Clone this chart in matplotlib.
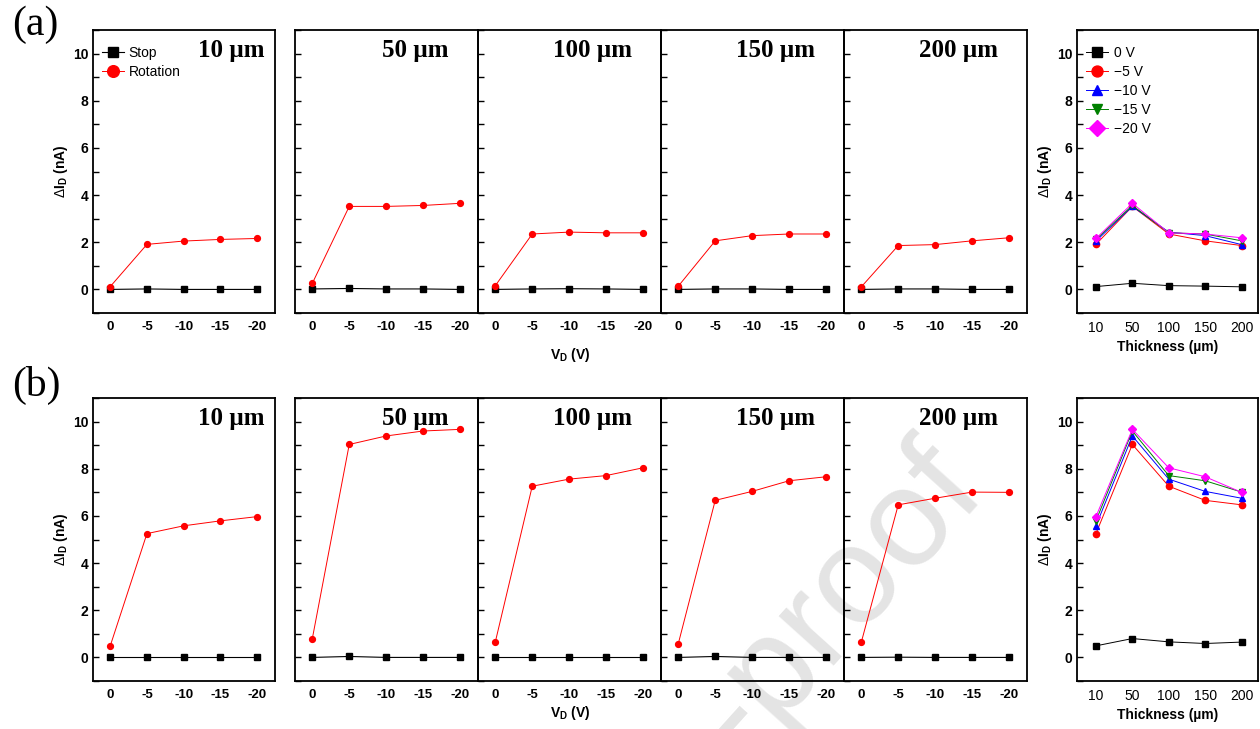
import matplotlib
matplotlib.use('Agg')
import matplotlib.pyplot as plt
from matplotlib.ticker import MultipleLocator

plt.rcParams['font.family'] = ['Liberation Sans', 'DejaVu Sans']
plt.rcParams['mathtext.fontset'] = 'custom'
plt.rcParams['mathtext.rm'] = 'Liberation Sans'
plt.rcParams['mathtext.bf'] = 'Liberation Sans:bold'
plt.rcParams['mathtext.it'] = 'Liberation Sans:italic'

# data
vd_labels = ['0', '-5', '-10', '-15', '-20']
thickness_labels = ['10', '50', '100', '150', '200']
panel_titles = ['10 µm', '50 µm', '100 µm', '150 µm', '200 µm']
bias_labels = ['0 V', '\u22125 V', '\u221210 V', '\u221215 V', '\u221220 V']

# (a) one list per thickness, values at VD = 0, -5, -10, -15, -20
stop_a = [[0.0, 0.02, 0.0, 0.0, 0.0],
          [0.02, 0.04, 0.02, 0.02, 0.0],
          [0.0, 0.02, 0.03, 0.02, 0.0],
          [0.0, 0.02, 0.02, 0.0, 0.0],
          [0.0, 0.02, 0.02, 0.0, 0.0]]
rot_a = [[0.12, 1.91, 2.05, 2.12, 2.16],
         [0.26, 3.52, 3.52, 3.56, 3.65],
         [0.16, 2.35, 2.43, 2.40, 2.40],
         [0.14, 2.06, 2.28, 2.35, 2.35],
         [0.11, 1.86, 1.90, 2.06, 2.19]]

# (b)
stop_b = [[0.0, 0.0, 0.0, 0.0, 0.0],
          [0.0, 0.04, 0.0, 0.0, 0.0],
          [0.0, 0.0, 0.0, 0.0, 0.0],
          [0.0, 0.04, 0.0, 0.0, 0.0],
          [0.0, 0.01, 0.0, 0.0, 0.0]]
rot_b = [[0.49, 5.25, 5.58, 5.79, 5.97],
         [0.80, 9.03, 9.39, 9.60, 9.67],
         [0.66, 7.26, 7.56, 7.71, 8.04],
         [0.59, 6.66, 7.04, 7.49, 7.66],
         [0.65, 6.47, 6.75, 7.01, 7.00]]

bias_colors = ['black', 'red', 'blue', 'green', 'magenta']
bias_markers = ['s', 'o', '^', 'v', 'D']

W, H = 1260, 729
fig = plt.figure(figsize=(W / 100, H / 100), dpi=100)

panel_x = [93, 295, 478, 661, 844]
panel_w = [182, 183, 183, 183, 183]
right_x, right_w = 1077, 181


def style_y(ax, labels=True):
    ax.set_ylim(-1, 11)
    ax.yaxis.set_major_locator(MultipleLocator(2))
    ax.yaxis.set_minor_locator(MultipleLocator(1))
    ax.tick_params(axis='y', which='both', direction='in', length=4, width=1,
                   right=False, labelleft=labels, labelsize=10)
    ax.tick_params(axis='x', length=0, pad=6)
    for lab in ax.get_yticklabels():
        lab.set_fontweight('bold')
    for sp in ax.spines.values():
        sp.set_linewidth(1.3)
    ax.set_facecolor('none')


def ylabel(ax):
    ax.set_ylabel(r'$\Delta$I$_\mathbf{D}$ (nA)', fontsize=10, fontweight='bold', labelpad=2)


def draw_row(top_px, stops, rots, tag, tag_y, with_legend):
    h = 283
    b = 1 - (top_px + h) / H
    for i in range(5):
        ax = fig.add_axes([panel_x[i] / W, b, panel_w[i] / W, h / H])
        ax.plot(range(5), stops[i], color='black', marker='s', ms=3.8, lw=0.8)
        ax.plot(range(5), rots[i], color='red', marker='o', ms=4.2, lw=0.7)
        ax.set_xlim(-0.47, 4.49)
        ax.set_xticks(range(5))
        ax.set_xticklabels(vd_labels, fontsize=9.5, fontweight='bold')
        style_y(ax, labels=(i == 0))
        tx = 0.945 if i == 0 else 0.84
        ax.text(tx, 0.968, panel_titles[i], transform=ax.transAxes, ha='right', va='top',
                family='Liberation Serif', fontweight='bold', fontsize=18)
        if i == 0:
            ylabel(ax)
            if with_legend:
                ax.legend(['Stop', 'Rotation'], loc='upper left', bbox_to_anchor=(0.05, 0.944),
                          frameon=False, fontsize=10, borderpad=0, borderaxespad=0,
                          handlelength=1.6, handletextpad=0.3, labelspacing=0.38, markerscale=2.0)

    # thickness summary panel, built from the rotation data
    ax = fig.add_axes([right_x / W, b, right_w / W, h / H])
    series = [[r[k] for r in rots] for k in range(5)]
    for k in range(5):
        ax.plot(range(5), series[k], color=bias_colors[k], marker=bias_markers[k],
                ms=4.5 if k else 4, lw=0.7)
    ax.set_xlim(-0.52, 4.45)
    ax.set_xticks(range(5))
    ax.set_xticklabels(thickness_labels, fontsize=10)
    style_y(ax)
    ylabel(ax)
    ax.set_xlabel('Thickness (µm)', fontsize=10, fontweight='bold', labelpad=3)
    if with_legend:
        ax.legend(bias_labels, loc='upper left', bbox_to_anchor=(0.05, 0.944),
                  frameon=False, fontsize=10, borderpad=0, borderaxespad=0,
                  handlelength=1.6, handletextpad=0.4, labelspacing=0.36, markerscale=1.75)

    fig.text(12 / W, 1 - tag_y / H, tag, family='Liberation Serif', fontsize=30,
             ha='left', va='center')


draw_row(30, stop_a, rot_a, '(a)', 25, True)
draw_row(398, stop_b, rot_b, '(b)', 385, False)

fig.text(570 / W, 1 - 355 / H, r'V$_\mathbf{D}$ (V)', fontsize=10, fontweight='bold',
         ha='center', va='center')
fig.text(570 / W, 1 - 713 / H, r'V$_\mathbf{D}$ (V)', fontsize=10, fontweight='bold',
         ha='center', va='center')

# watermark
fig.text(988 / W, 1 - 494 / H, 'Journal Pre-proof', fontsize=100, color='#e4e4e4',
         rotation=48, rotation_mode='anchor', ha='right', va='baseline', zorder=-1)

fig.savefig('out.png', dpi=100, facecolor='white')
